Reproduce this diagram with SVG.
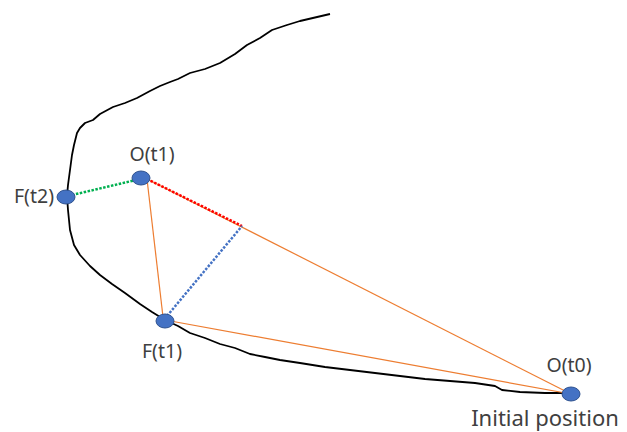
<svg xmlns="http://www.w3.org/2000/svg" width="627" height="432" viewBox="0 0 627 432">
<style>
.node{fill:#4472C4;stroke:#2F528F;stroke-width:1}
.lbl{font-family:"Noto Sans","Open Sans",sans-serif;font-size:19.5px;fill:#404040}
.or{stroke:#ED7D31;stroke-width:1.2;fill:none}
.dot{stroke-width:2.5;stroke-dasharray:2.5 1.5;fill:none}
</style>
<rect width="627" height="432" fill="#fff"/>
<g id="curve">
<path d="M330,14 L300,21 L287,25 L272,30 L260,38 L247,45 L235,54 L220,63 L205,69 L190,73 L178,79 L170,82 L160,86 L150,91 L137,98 L125,103 L113,107 L100,114 L93,120 L85,123 L80,128 L77,133 L74,145 L72,155 L70,170 L68,185 L67,196 L68,210 L70,230 L74,245 L80,255 L90,266 L100,275 L112,284 L125,293 L140,304 L152,312 L165,320 L178,326 L190,333 L205,338 L220,344 L235,348 L250,354 L265,357 L280,360 L300,363 L325,367 L350,370 L375,373 L400,376 L425,379 L450,381 L475,383 L495,386 L502,390 L520,392 L545,393 L570,393" fill="none" stroke="#000" stroke-width="1.8" stroke-linejoin="round"/>
</g>
<g id="connectors">
<line class="or" x1="147" y1="179" x2="163" y2="317"/>
<line class="or" x1="147" y1="179" x2="571" y2="394"/>
<line class="or" x1="165" y1="320" x2="571" y2="394"/>
<line class="dot" x1="147" y1="179" x2="242" y2="226" stroke="#FF0000"/>
<line class="dot" x1="167" y1="316" x2="242" y2="226" stroke="#4472C4"/>
<line class="dot" x1="72" y1="195" x2="136" y2="180" stroke="#00B050"/>
</g>
<g id="Ft2"><ellipse class="node" cx="66" cy="197" rx="9" ry="7"/><text class="lbl" x="54" y="203" text-anchor="end">F(t2)</text></g>
<g id="Ot1"><ellipse class="node" cx="141" cy="178" rx="9" ry="7"/><text class="lbl" x="152" y="161" text-anchor="middle">O(t1)</text></g>
<g id="Ft1"><ellipse class="node" cx="165" cy="321" rx="9" ry="7"/><text class="lbl" x="162" y="358" text-anchor="middle">F(t1)</text></g>
<g id="Ot0"><ellipse class="node" cx="571" cy="394" rx="9" ry="7"/><text class="lbl" x="569" y="372" text-anchor="middle">O(t0)</text>
<text class="lbl" x="545" y="426" text-anchor="middle" style="font-size:22px">Initial position</text></g>
</svg>
